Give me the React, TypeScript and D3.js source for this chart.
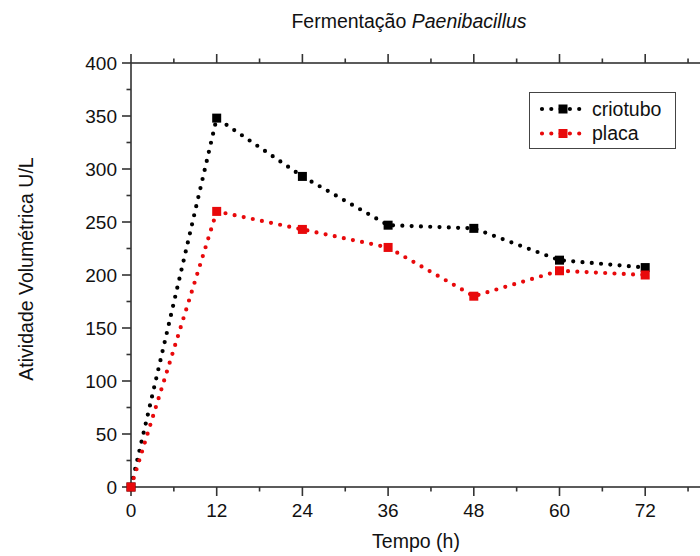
import React, { useEffect, useRef } from 'react'
import * as d3 from 'd3'

const hours = [0, 12, 24, 36, 48, 60, 72]
const criotubo = [0, 348, 293, 247, 244, 214, 207]
const placa = [0, 260, 243, 226, 180, 204, 200]
const xTicks = [0, 12, 24, 36, 48, 60, 72]
const yTicks = [0, 50, 100, 150, 200, 250, 300, 350, 400]

const series = [
  { name: 'criotubo', values: criotubo, color: '#000000' },
  { name: 'placa', values: placa, color: '#e8090b' },
]

const W = 700
const H = 556
const FONT = '"Liberation Sans", Arial, sans-serif'

export default function App() {
  const ref = useRef<SVGSVGElement>(null)

  useEffect(() => {
    const svg = d3.select(ref.current)
    svg.selectAll('*').remove()

    const left = 131, top = 63, bottom = 487
    const xMax = 84
    const x = d3.scaleLinear().domain([0, xMax]).range([left, left + 7 * 85.7])
    const y = d3.scaleLinear().domain([0, 400]).range([bottom, top])
    const axisColor = '#333'

    const g = svg.append('g')

    // eixos com ticks para fora, principais + menores
    const majorX = d3.range(0, xMax + 1, 12)
    const minorX = d3.range(6, xMax, 12)
    const minorY = d3.range(25, 400, 50)
    const frame = g.append('g').attr('stroke', axisColor).attr('stroke-width', 1.6).attr('fill', 'none')
    frame.append('rect').attr('x', left).attr('y', top).attr('width', x(xMax) - left).attr('height', bottom - top)
    majorX.forEach(t => {
      frame.append('line').attr('x1', x(t)).attr('x2', x(t)).attr('y1', bottom).attr('y2', bottom + 9)
      frame.append('line').attr('x1', x(t)).attr('x2', x(t)).attr('y1', top).attr('y2', top - 9)
    })
    minorX.forEach(t => {
      frame.append('line').attr('x1', x(t)).attr('x2', x(t)).attr('y1', bottom).attr('y2', bottom + 4.5)
      frame.append('line').attr('x1', x(t)).attr('x2', x(t)).attr('y1', top).attr('y2', top - 4.5)
    })
    yTicks.forEach(t => {
      frame.append('line').attr('x1', left).attr('x2', left - 9).attr('y1', y(t)).attr('y2', y(t))
    })
    minorY.forEach(t => {
      frame.append('line').attr('x1', left).attr('x2', left - 4.5).attr('y1', y(t)).attr('y2', y(t))
    })

    g.selectAll('text.xt').data(xTicks).join('text')
      .attr('x', d => x(d)).attr('y', bottom + 30)
      .attr('text-anchor', 'middle').attr('font-size', 19).attr('font-family', FONT).attr('fill', '#111')
      .text(d => d)
    g.selectAll('text.yt').data(yTicks).join('text')
      .attr('x', left - 14).attr('y', d => y(d) + 7)
      .attr('text-anchor', 'end').attr('font-size', 19).attr('font-family', FONT).attr('fill', '#111')
      .text(d => d)

    // linhas pontilhadas
    const line = d3.line<number>().x((d, i) => x(hours[i])).y(d => y(d))
    series.forEach(s => {
      g.append('path').datum(s.values).attr('d', line)
        .attr('fill', 'none').attr('stroke', s.color).attr('stroke-width', 4.2)
        .attr('stroke-linecap', 'round').attr('stroke-dasharray', '0 9.3')
      g.selectAll(null).data(s.values).join('rect')
        .attr('x', (d, i) => x(hours[i]) - 4.5).attr('y', d => y(d) - 4.5)
        .attr('width', 9).attr('height', 9).attr('fill', s.color)
    })

    // legenda
    const lg = g.append('g')
    lg.append('rect').attr('x', 529.5).attr('y', 92.5).attr('width', 146).attr('height', 56)
      .attr('fill', 'white').attr('stroke', '#444').attr('stroke-width', 1)
    series.forEach((s, i) => {
      const ly = 109 + i * 24.5
      lg.append('path').attr('d', `M542,${ly}L584,${ly}`)
        .attr('stroke', s.color).attr('stroke-width', 4.2).attr('stroke-linecap', 'round')
        .attr('stroke-dasharray', '0 9.3')
      lg.append('rect').attr('x', 558.5).attr('y', ly - 4.5).attr('width', 9).attr('height', 9).attr('fill', s.color)
      lg.append('text').attr('x', 592).attr('y', ly + 6.5).attr('font-size', 19.5).attr('font-family', FONT)
        .attr('fill', '#111').text(s.name)
    })

    // títulos
    const title = svg.append('text').attr('x', 409).attr('y', 28).attr('text-anchor', 'middle')
      .attr('font-size', 19.5).attr('font-family', FONT).attr('fill', '#111')
    title.append('tspan').text('Fermentação ')
    title.append('tspan').attr('font-style', 'italic').text('Paenibacillus')

    svg.append('text').attr('x', 416).attr('y', 548).attr('text-anchor', 'middle')
      .attr('font-size', 19.5).attr('font-family', FONT).attr('fill', '#111').text('Tempo (h)')
    svg.append('text').attr('transform', 'translate(33,269) rotate(-90)').attr('text-anchor', 'middle')
      .attr('font-size', 19.5).attr('font-family', FONT).attr('fill', '#111').text('Atividade Volumétrica U/L')
  }, [])

  return (
    <svg ref={ref} width={W} height={H}
      style={{ position: 'absolute', left: 0, top: 0, background: 'white', display: 'block' }} />
  )
}
